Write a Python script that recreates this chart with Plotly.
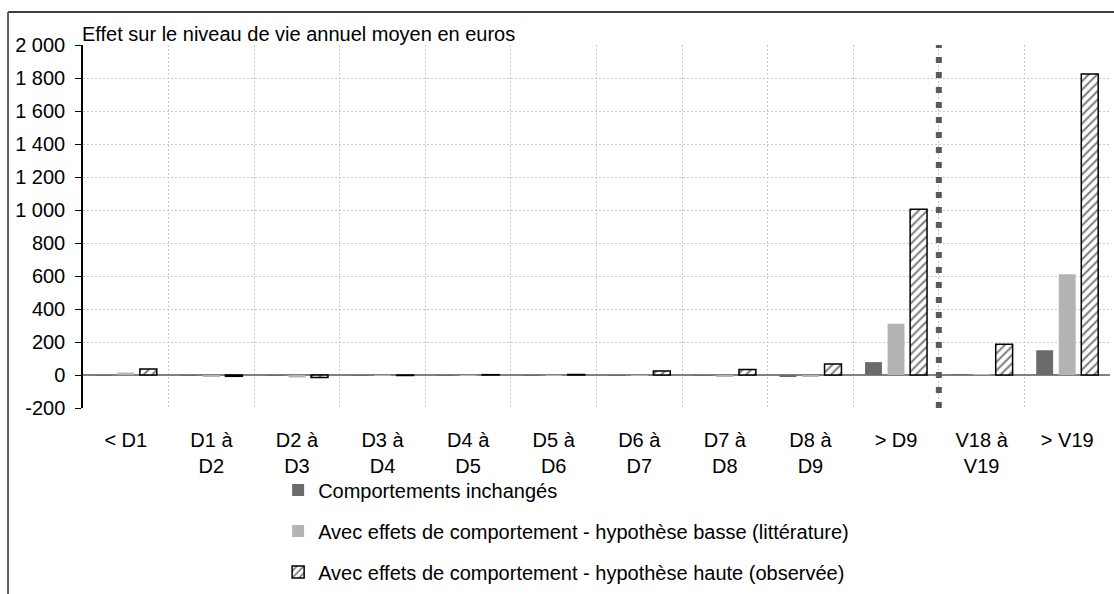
import plotly.graph_objects as go

categories = ["< D1", "D1 à<br>D2", "D2 à<br>D3", "D3 à<br>D4", "D4 à<br>D5", "D5 à<br>D6",
              "D6 à<br>D7", "D7 à<br>D8", "D8 à<br>D9", "> D9", "V18 à<br>V19", "> V19"]
inchanges = [-5, -5, -6, -5, -5, -5, -5, -6, -12, 78, 5, 150]
basse = [15, -8, -15, -6, -6, -6, -6, -8, -12, 310, 3, 610]
haute = [36, -8, -15, -3, 2, 3, 24, 34, 67, 1005, 186, 1825]
series_names = ["Comportements inchangés",
                "Avec effets de comportement - hypothèse basse (littérature)",
                "Avec effets de comportement - hypothèse haute (observée)"]
ytickvals = [-200, 0, 200, 400, 600, 800, 1000, 1200, 1400, 1600, 1800, 2000]
yticktext = ["-200", "0", "200", "400", "600", "800", "1 000", "1 200", "1 400", "1 600", "1 800", "2 000"]
ytitle = "Effet sur le niveau de vie annuel moyen en euros"

FONT = "Liberation Sans, Arial, sans-serif"

fig = go.Figure()
fig.add_trace(go.Bar(x=categories, y=inchanges, name=series_names[0], legendgroup="a",
                     marker=dict(color="#6b6b6b", line=dict(width=0))))
fig.add_trace(go.Bar(x=categories, y=basse, name=series_names[1], legendgroup="b",
                     marker=dict(color="#b4b4b4", line=dict(width=0))))
fig.add_trace(go.Bar(x=categories, y=haute, name=series_names[2], legendgroup="c",
                     marker=dict(color="white", line=dict(color="black", width=1.5),
                                 pattern=dict(shape="/", fgcolor="black", bgcolor="white",
                                              size=6, solidity=0.35))))

# separator between deciles and vingtiles
fig.add_shape(type="line", xref="x", yref="paper", x0=9.5, x1=9.5, y0=0, y1=1,
              line=dict(color="#5a5a5a", width=6, dash="6px,9px"), layer="above")

# outer frame (partially visible)
fig.add_shape(type="line", xref="paper", yref="paper", x0=-0.073, x1=1.2, y0=1.091, y1=1.091,
              line=dict(color="#404040", width=2))
fig.add_shape(type="line", xref="paper", yref="paper", x0=-0.073, x1=-0.073, y0=1.091, y1=-0.7,
              line=dict(color="#606060", width=2))

fig.add_annotation(text=ytitle, xref="paper", yref="paper", x=0.0, y=1.0, xanchor="left",
                   yanchor="bottom", showarrow=False, font=dict(size=20, color="black", family=FONT),
                   yshift=-2, xshift=-3)

fig.update_layout(
    width=1114, height=594,
    margin=dict(l=83, r=4, t=45, b=186, autoexpand=False),
    paper_bgcolor="white", plot_bgcolor="white",
    font=dict(family=FONT, size=20, color="black"),
    barmode="group", bargap=0.21, bargroupgap=0.25,
    showlegend=True,
    legend=dict(x=0.19, y=-0.172, xanchor="left", yanchor="top", orientation="v",
                font=dict(size=20, family=FONT), tracegroupgap=12, itemwidth=30,
                bgcolor="rgba(0,0,0,0)"),
    xaxis=dict(type="category", tickson="boundaries", showgrid=True, gridcolor="#c8c8c8",
               griddash="2px,2px", gridwidth=1, ticks="", showline=False, zeroline=False,
               tickfont=dict(size=20), ticklabelstandoff=18, automargin=False),
    yaxis=dict(range=[-200, 2000], tickvals=ytickvals, ticktext=yticktext, showgrid=True,
               gridcolor="#c8c8c8", griddash="2px,2px", gridwidth=1, ticks="outside", ticklen=6,
               tickcolor="black", showline=True, linecolor="black", linewidth=1.5,
               zeroline=True, zerolinecolor="#808080", zerolinewidth=2,
               tickfont=dict(size=20), ticklabelstandoff=6, automargin=False),
)

fig.write_html("out.html")
